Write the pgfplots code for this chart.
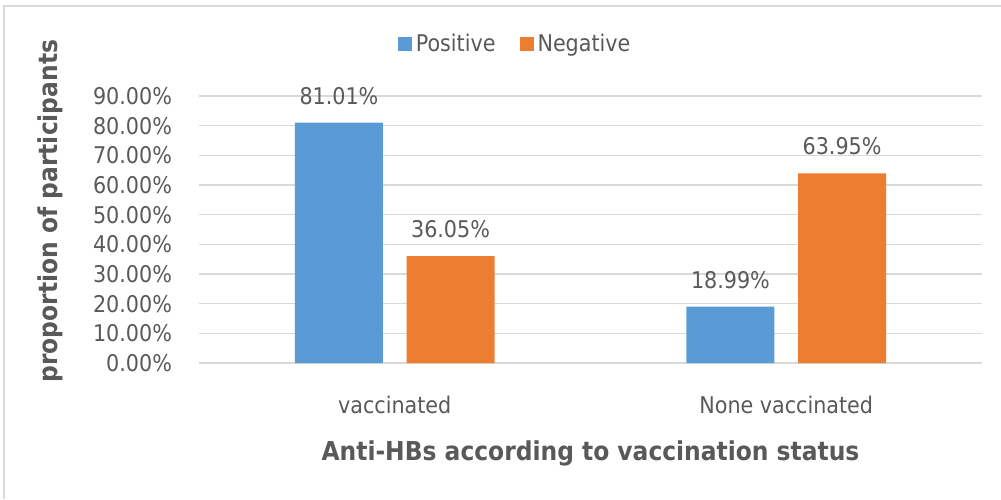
\documentclass[border=0pt]{standalone}
\usepackage{pgfplots}
\pgfplotsset{compat=1.18}
\usepackage{fontspec}
\setmainfont{DejaVu Sans Condensed}
\definecolor{txt}{HTML}{595959}
\definecolor{gridc}{HTML}{D9D9D9}
\definecolor{pos}{HTML}{5B9BD5}
\definecolor{neg}{HTML}{ED7D31}

\begin{document}
\begin{tikzpicture}
\useasboundingbox (0,0) rectangle (500.5pt,249.5pt);
\draw[gridc, line width=0.8pt] (2pt,0) -- (2pt,246.5pt) -- (500.5pt,246.5pt);

\begin{axis}[
  scale only axis,
  width=391.5pt, height=133.5pt,
  at={(99.5pt,68pt)}, anchor=south west,
  ybar, bar width=44pt,
  xmin=-0.5, xmax=1.5,
  ymin=0, ymax=90,
  ytick={0,10,...,90},
  xtick={0,1},
  xticklabels={vaccinated, None vaccinated},
  axis line style={draw=none},
  major tick length=0pt,
  ymajorgrids,
  grid style={gridc, line width=0.65pt},
  font=\fontsize{11.5pt}{13pt}\selectfont,
  every tick label/.append style={txt},
  /pgf/number format/assume math mode=true,
  yticklabel={\pgfmathprintnumber[fixed,fixed zerofill,precision=2]{\tick}\%},
  yticklabel style={anchor=east, xshift=-10pt},
  xticklabel style={anchor=center, yshift=-21pt},
  xlabel={\textbf{Anti-HBs according to vaccination status}},
  xlabel style={at={(axis description cs:0.5,-0.337)}, anchor=center, txt, font=\fontsize{13pt}{15pt}\selectfont},
  ylabel={\textbf{proportion of participants}},
  ylabel style={at={(axis description cs:-0.190,0.569)}, anchor=center, txt, font=\fontsize{13pt}{15pt}\selectfont},
  nodes near coords={\pgfmathprintnumber[fixed,fixed zerofill,precision=2]{\pgfplotspointmeta}\%},
  nodes near coords style={txt, anchor=south, yshift=5.5pt, /pgf/number format/assume math mode=true},
  legend style={at={(axis description cs:0.405,1.195)}, anchor=center, draw=none, fill=none,
    legend columns=2, text=txt, /tikz/every even column/.append style={column sep=10pt}},
  legend image code/.code={\fill[#1] (0pt,-3.5pt) rectangle (7pt,3.5pt);},
]
\addplot[fill=pos, draw=none, bar shift=-27.9pt] coordinates {(0,81.01) (1,18.99)};
\addplot[fill=neg, draw=none, bar shift=27.9pt] coordinates {(0,36.05) (1,63.95)};
\legend{Positive, Negative}
\end{axis}
\end{tikzpicture}
\end{document}
